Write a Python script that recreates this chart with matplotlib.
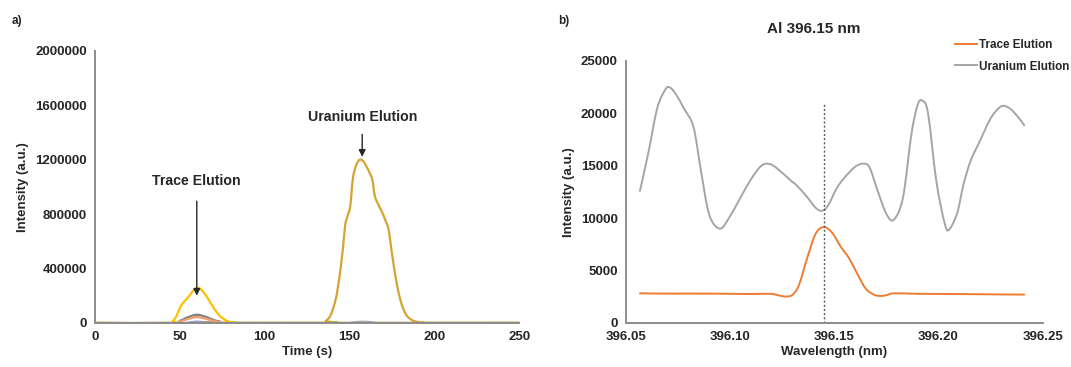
import matplotlib
matplotlib.use("Agg")
import matplotlib.pyplot as plt
from matplotlib.path import Path
from matplotlib.patches import PathPatch
from matplotlib.lines import Line2D
import numpy as np

plt.rcParams['font.family'] = ['Liberation Sans', 'DejaVu Sans']
plt.rcParams['font.weight'] = 'bold'

# ---- panel a) elution profiles ----
t_trace = [0, 44, 46, 48, 50, 52, 54, 56, 58, 60, 62, 64, 66, 68, 70, 72, 74, 76, 78, 80, 83, 90, 250]
i_trace = [0, 0, 15000, 50000, 110000, 150000, 175000, 205000, 240000, 258000, 252000, 225000, 190000,
           150000, 110000, 75000, 48000, 28000, 14000, 6000, 1500, 0, 0]

t_small = [0, 46, 50, 54, 58, 60, 62, 66, 70, 74, 78, 250]
i_gray = [0, 0, 15000, 38000, 56000, 60000, 57000, 42000, 22000, 8000, 0, 0]
i_orange = [0, 0, 10000, 26000, 40000, 43000, 40000, 29000, 15000, 5000, 0, 0]
i_blue = [0, 0, 5000, 13000, 20000, 22000, 20000, 14000, 7000, 2000, 0, 0]

t_uran = [0, 132, 136, 139, 142, 144, 146, 147.5, 149, 150.5, 152, 154, 156, 158, 160, 162, 163.5,
          165, 167, 169, 171, 173, 174.5, 176, 178, 180, 182, 184, 187, 190, 194, 200, 250]
i_uran = [0, 0, 15000, 60000, 180000, 330000, 530000, 720000, 790000, 860000, 1060000, 1160000, 1198000,
          1190000, 1150000, 1100000, 1050000, 930000, 870000, 820000, 760000, 690000, 560000, 430000,
          280000, 170000, 95000, 50000, 20000, 8000, 2000, 0, 0]

t_ublue = [0, 144, 148, 152, 156, 159, 162, 166, 170, 175, 250]
i_ublue = [0, 0, 8000, 17000, 21000, 21000, 18000, 12000, 6000, 0, 0]

# ---- panel b) Al 396.15 nm spectra ----
wl_uran = [396.0567, 396.0610, 396.0650, 396.0690, 396.0712, 396.0740, 396.0780, 396.0824, 396.0860,
           396.0900, 396.0952, 396.1000, 396.1048, 396.1100, 396.1150, 396.1193, 396.1240, 396.1290,
           396.1321, 396.1370, 396.1410, 396.1440, 396.1470, 396.1510, 396.1546, 396.1600, 396.1640,
           396.1670, 396.1710, 396.1750, 396.1786, 396.1830, 396.1870, 396.1900, 396.1923, 396.1950,
           396.1990, 396.2030, 396.2051, 396.2090, 396.2120, 396.2155, 396.2200, 396.2250, 396.2300,
           396.2340, 396.2380, 396.2412]
int_uran = [12600, 16500, 20500, 22300, 22450, 21800, 20400, 18700, 14500, 10300, 9000, 10200, 11900,
            13700, 15000, 15150, 14500, 13600, 13100, 12000, 11000, 10700, 11200, 12800, 13800, 14900,
            15200, 14800, 12500, 10400, 9850, 12000, 18000, 20800, 21200, 20000, 13500, 9500, 8900,
            10500, 13200, 15500, 17400, 19500, 20650, 20500, 19700, 18850]

wl_trace = [396.0567, 396.0700, 396.0900, 396.1100, 396.1193, 396.1240, 396.1270, 396.1300, 396.1330,
            396.1370, 396.1410, 396.1450, 396.1490, 396.1530, 396.1570, 396.1610, 396.1650, 396.1690,
            396.1720, 396.1750, 396.1786, 396.1900, 396.2100, 396.2300, 396.2412]
int_trace = [2830, 2800, 2800, 2760, 2780, 2600, 2520, 2700, 3600, 6200, 8500, 9150, 8600, 7300, 6200,
             4700, 3300, 2700, 2580, 2650, 2830, 2780, 2760, 2720, 2710]

marker_wl = 396.145


def smooth_line(ax, x, y, **kw):
    # spreadsheet-style smoothed line: cubic Bezier segments through the points
    x = np.asarray(x, float)
    y = np.asarray(y, float)
    verts = [(x[0], y[0])]
    codes = [Path.MOVETO]
    n = len(x)
    for i in range(n - 1):
        i0 = max(i - 1, 0)
        i3 = min(i + 2, n - 1)
        c1 = (x[i] + (x[i + 1] - x[i0]) / 6, y[i] + (y[i + 1] - y[i0]) / 6)
        c2 = (x[i + 1] - (x[i3] - x[i]) / 6, y[i + 1] - (y[i3] - y[i]) / 6)
        verts += [c1, c2, (x[i + 1], y[i + 1])]
        codes += [Path.CURVE4] * 3
    patch = PathPatch(Path(verts, codes), fill=False, capstyle='round', joinstyle='round', **kw)
    ax.add_patch(patch)
    return patch


fig = plt.figure(figsize=(10.71, 3.67), dpi=100)
axa = fig.add_axes([0.0887, 0.12, 0.396, 0.742])
axb = fig.add_axes([0.5845, 0.12, 0.389, 0.714])

tick_color = '#262626'
for ax in (axa, axb):
    for s in ('top', 'right'):
        ax.spines[s].set_visible(False)
    for s in ('left', 'bottom'):
        ax.spines[s].set_color('#8c8c8c')
        ax.spines[s].set_linewidth(1.4)
    ax.tick_params(length=0, labelsize=9.5, colors=tick_color, pad=6)

# panel a
axa.fill_between(t_small, i_blue, color='#5b7bbf', alpha=0.7, lw=0)
axa.fill_between(t_ublue, i_ublue, color='#5b7bbf', alpha=0.6, lw=0)
smooth_line(axa, t_small, i_gray, edgecolor='#7f7f7f', lw=1.6)
smooth_line(axa, t_small, i_orange, edgecolor='#f0a070', lw=1.6)
smooth_line(axa, t_trace, i_trace, edgecolor='#ffc000', lw=1.6)
smooth_line(axa, t_uran, i_uran, edgecolor='#d4a431', lw=1.6)
axa.plot([0, 250], [0, 0], color='#66799e', lw=2.2)
axa.set_xlim(0, 250)
axa.set_ylim(0, 2000000)
axa.set_xticks([0, 50, 100, 150, 200, 250])
axa.set_yticks([0, 400000, 800000, 1200000, 1600000, 2000000])
axa.set_xticklabels(['0', '50', '100', '150', '200', '250'], fontweight='bold')
axa.set_yticklabels(['0', '400000', '800000', '1200000', '1600000', '2000000'], fontweight='bold')
axa.set_xlabel('Time (s)', fontsize=9.5, fontweight='bold', color=tick_color, labelpad=2)
axa.set_ylabel('Intensity (a.u.)', fontsize=9.5, fontweight='bold', color=tick_color, labelpad=4)
axa.annotate('', xy=(60, 180000), xytext=(60, 915000),
             arrowprops=dict(arrowstyle='-|>', color='#262626', lw=1.0, mutation_scale=10))
axa.text(59.5, 1040000, 'Trace Elution', ha='center', va='center', fontsize=10.2,
         fontweight='bold', color=tick_color)
axa.annotate('', xy=(157.5, 1200000), xytext=(157.5, 1405000),
             arrowprops=dict(arrowstyle='-|>', color='#262626', lw=1.0, mutation_scale=10))
axa.text(157.7, 1515000, 'Uranium Elution', ha='center', va='center', fontsize=10.2,
         fontweight='bold', color=tick_color)

# panel b
smooth_line(axb, wl_trace, int_trace, edgecolor='#ed7d31', lw=1.4)
smooth_line(axb, wl_uran, int_uran, edgecolor='#a5a5a5', lw=1.4)
axb.plot([marker_wl, marker_wl], [0, 21000], color='#595959', lw=1.0, ls=(0, (1.5, 1.5)))
axb.set_xlim(396.05, 396.25)
axb.set_ylim(0, 25000)
axb.set_xticks([396.05, 396.10, 396.15, 396.20, 396.25])
axb.set_xticklabels(['396.05', '396.10', '396.15', '396.20', '396.25'], fontweight='bold')
axb.set_yticks([0, 5000, 10000, 15000, 20000, 25000])
axb.set_yticklabels(['0', '5000', '10000', '15000', '20000', '25000'], fontweight='bold')
axb.set_xlabel('Wavelength (nm)', fontsize=9.5, fontweight='bold', color=tick_color, labelpad=2)
axb.set_ylabel('Intensity (a.u.)', fontsize=9.5, fontweight='bold', color=tick_color, labelpad=4)
fig.text(0.76, 0.922, 'Al 396.15 nm', ha='center', va='center', fontsize=11,
         fontweight='bold', color=tick_color)
handles = [Line2D([], [], color='#ed7d31', lw=1.4), Line2D([], [], color='#a5a5a5', lw=1.4)]
leg = axb.legend(handles, ['Trace Elution', 'Uranium Elution'], loc='upper left',
                 bbox_to_anchor=(0.79, 1.085), frameon=False, fontsize=8.4,
                 handlelength=1.9, handletextpad=0.15, labelspacing=0.85, borderaxespad=0,
                 borderpad=0)
for txt in leg.get_texts():
    txt.set_fontweight('bold')
    txt.set_color(tick_color)

fig.text(0.011, 0.935, 'a)', fontsize=8.5, fontweight='bold', color=tick_color)
fig.text(0.521, 0.935, 'b)', fontsize=8.5, fontweight='bold', color=tick_color)

fig.savefig('out.png', dpi=100)
